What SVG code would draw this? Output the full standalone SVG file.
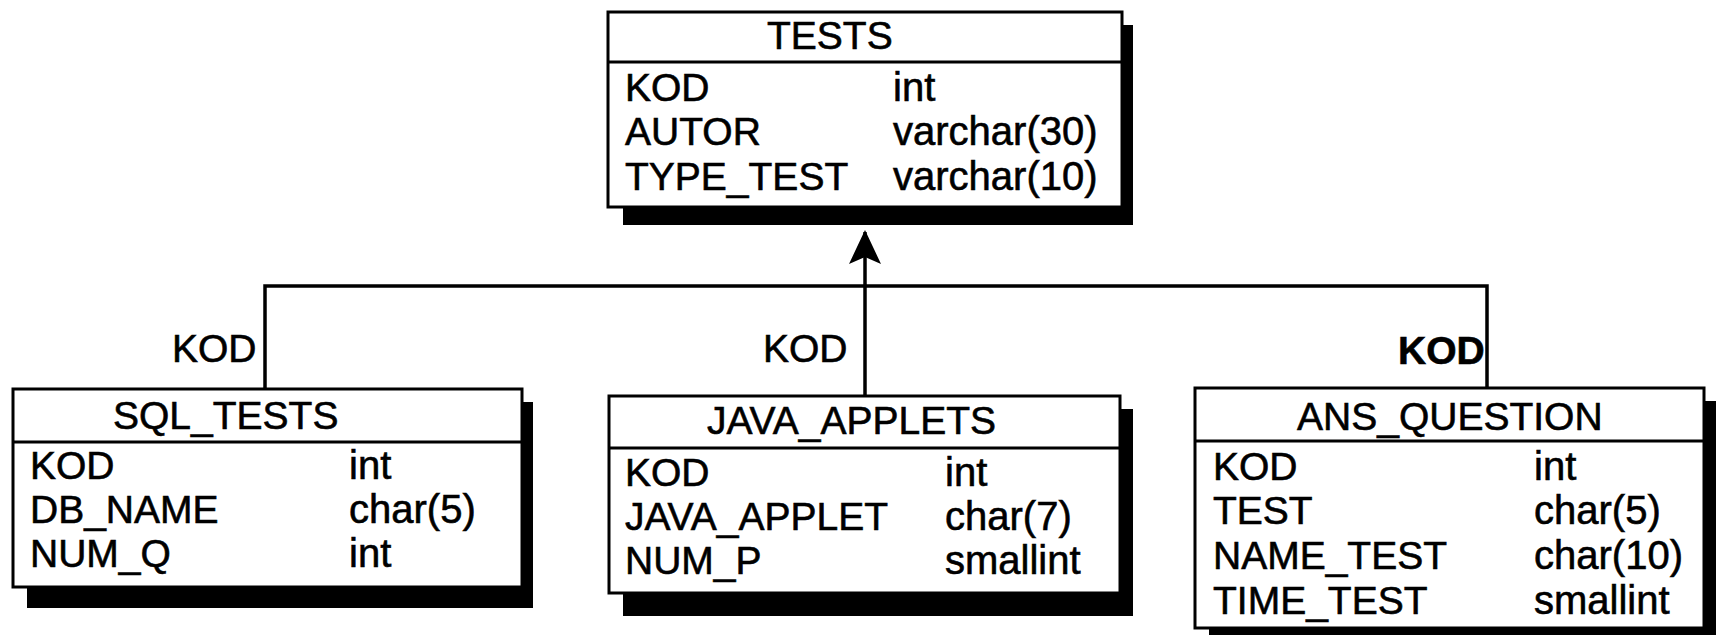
<svg xmlns="http://www.w3.org/2000/svg" width="1719" height="635" viewBox="0 0 1719 635">
<style>
.box{fill:#fff;stroke:#000;stroke-width:3}
.shadow{fill:#000}
.div{stroke:#000;stroke-width:3}
text{font-family:"Liberation Sans",Arial,sans-serif;font-size:39px;fill:#000;stroke:#000;stroke-width:0.6}
.ty{font-size:40px}
.conn{fill:none;stroke:#000;stroke-width:3.5}
</style>
<defs>
<marker id="arr" viewBox="0 0 34 32" refX="32" refY="16" markerWidth="34" markerHeight="32" markerUnits="userSpaceOnUse" orient="auto">
<path d="M0,0 L34,16 L0,32 L7,16 Z" fill="#000"/>
</marker>
</defs>
<rect width="1719" height="635" fill="#fff"/>
<g id="connectors">
<path class="conn" d="M265,389 V286 H1487 V388"/>
<path class="conn" d="M865,396 V232" marker-end="url(#arr)"/>
<text x="172" y="362">KOD</text>
<text x="763" y="362">KOD</text>
<text x="1398" y="364" font-weight="bold">KOD</text>
</g>
<g id="TESTS">
<rect class="shadow" x="623" y="25" width="510" height="200"/>
<rect class="box" x="608" y="12" width="514" height="195"/>
<line class="div" x1="608" y1="62" x2="1122" y2="62"/>
<text x="767" y="49">TESTS</text>
<text x="625" y="101">KOD</text>
<text x="625" y="145">AUTOR</text>
<text x="625" y="190">TYPE_TEST</text>
<text class="ty" x="893" y="101">int</text>
<text class="ty" x="893" y="145">varchar(30)</text>
<text class="ty" x="893" y="190">varchar(10)</text>
</g>
<g id="SQL_TESTS">
<rect class="shadow" x="27" y="402" width="506" height="206"/>
<rect class="box" x="13" y="389" width="509" height="198"/>
<line class="div" x1="13" y1="442" x2="522" y2="442"/>
<text x="113" y="429">SQL_TESTS</text>
<text x="30" y="479">KOD</text>
<text x="30" y="523">DB_NAME</text>
<text x="30" y="567">NUM_Q</text>
<text class="ty" x="349" y="479">int</text>
<text class="ty" x="349" y="523">char(5)</text>
<text class="ty" x="349" y="567">int</text>
</g>
<g id="JAVA_APPLETS">
<rect class="shadow" x="623" y="409" width="510" height="207"/>
<rect class="box" x="609" y="396" width="511" height="197"/>
<line class="div" x1="609" y1="448" x2="1120" y2="448"/>
<text x="707" y="434">JAVA_APPLETS</text>
<text x="625" y="486">KOD</text>
<text x="625" y="530">JAVA_APPLET</text>
<text x="625" y="574">NUM_P</text>
<text class="ty" x="945" y="486">int</text>
<text class="ty" x="945" y="530">char(7)</text>
<text class="ty" x="945" y="574">smallint</text>
</g>
<g id="ANS_QUESTION">
<rect class="shadow" x="1209" y="401" width="507" height="240"/>
<rect class="box" x="1195" y="388" width="509" height="240"/>
<line class="div" x1="1195" y1="441" x2="1704" y2="441"/>
<text x="1297" y="430">ANS_QUESTION</text>
<text x="1213" y="480">KOD</text>
<text x="1213" y="524">TEST</text>
<text x="1213" y="569">NAME_TEST</text>
<text x="1213" y="614">TIME_TEST</text>
<text class="ty" x="1534" y="480">int</text>
<text class="ty" x="1534" y="524">char(5)</text>
<text class="ty" x="1534" y="569">char(10)</text>
<text class="ty" x="1534" y="614">smallint</text>
</g>
</svg>
